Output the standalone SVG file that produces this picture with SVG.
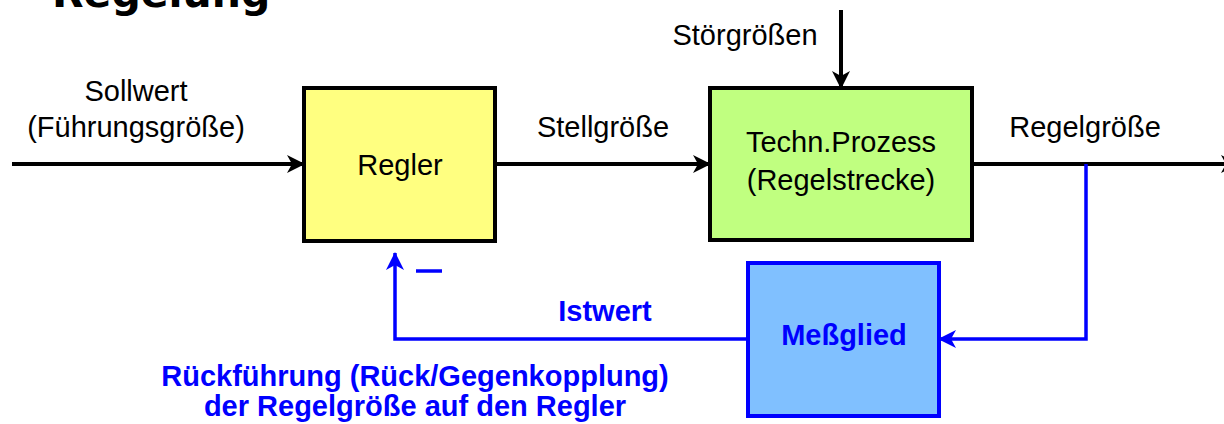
<svg xmlns="http://www.w3.org/2000/svg" width="1224" height="424" viewBox="0 0 1224 424">
<defs>
<style>
.t{font-family:"Liberation Sans",Arial,sans-serif;font-size:29px;fill:#000}
.b{font-family:"Liberation Sans",Arial,sans-serif;font-size:29px;font-weight:bold;fill:#0000FF}
.k{stroke:#000;stroke-width:4;fill:none}
.u{stroke:#0000FF;stroke-width:3.5;fill:none}
</style>
<marker id="ak" markerWidth="18" markerHeight="18" refX="17" refY="9" orient="auto" markerUnits="userSpaceOnUse">
<path d="M0,0 L18,9 L0,18 L5,9 z" fill="#000"/>
</marker>
<marker id="au" markerWidth="18" markerHeight="18" refX="17" refY="9" orient="auto" markerUnits="userSpaceOnUse">
<path d="M0,0 L18,9 L0,18 L5,9 z" fill="#0000FF"/>
</marker>
</defs>
<rect width="1224" height="424" fill="#fff"/>
<text x="52" y="7" style="font-family:'DejaVu Sans',sans-serif;font-size:41px;font-weight:bold">Regelung</text>

<g id="connectors">
<line class="k" x1="12" y1="164" x2="304" y2="164" marker-end="url(#ak)"/>
<line class="k" x1="495" y1="164" x2="710" y2="164" marker-end="url(#ak)"/>
<line class="k" x1="972" y1="164" x2="1238" y2="164" marker-end="url(#ak)"/>
<line class="k" x1="841" y1="10" x2="841" y2="88" marker-end="url(#ak)"/>
<polyline class="u" points="1086,164 1086,339 939,339" marker-end="url(#au)"/>
<polyline class="u" points="748,339 395,339 395,253" marker-end="url(#au)"/>
<line class="u" x1="416" y1="271" x2="442" y2="271"/>
</g>

<g id="labels">
<text class="t" x="136" y="101" text-anchor="middle">Sollwert</text>
<text class="t" x="136" y="137" text-anchor="middle">(Führungsgröße)</text>
<text class="t" x="603" y="137" text-anchor="middle">Stellgröße</text>
<text class="t" x="1085" y="137" text-anchor="middle">Regelgröße</text>
<text class="t" x="745" y="45" text-anchor="middle">Störgrößen</text>
<text class="b" x="605" y="321" text-anchor="middle">Istwert</text>
<text class="b" x="415" y="386" text-anchor="middle">Rückführung (Rück/Gegenkopplung)</text>
<text class="b" x="415" y="416" text-anchor="middle">der Regelgröße auf den Regler</text>
</g>

<g id="regler">
<rect x="304" y="88" width="191" height="153" fill="#FFFF80" stroke="#000" stroke-width="4"/>
<text class="t" x="400" y="175" text-anchor="middle">Regler</text>
</g>
<g id="prozess">
<rect x="710" y="88" width="262" height="152" fill="#C0FF80" stroke="#000" stroke-width="4"/>
<text class="t" x="841" y="152" text-anchor="middle">Techn.Prozess</text>
<text class="t" x="841" y="190" text-anchor="middle">(Regelstrecke)</text>
</g>
<g id="messglied">
<rect x="748" y="263" width="191" height="153" fill="#80C0FF" stroke="#0000FF" stroke-width="4"/>
<text class="b" x="844" y="345" text-anchor="middle">Meßglied</text>
</g>
</svg>
